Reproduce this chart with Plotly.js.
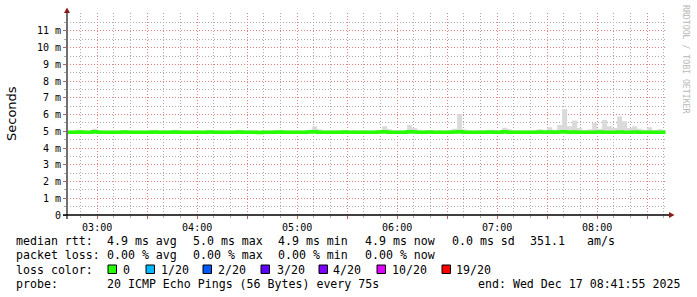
<!DOCTYPE html>
<html>
<head>
<meta charset="utf-8">
<script src="https://cdn.plot.ly/plotly-3.0.1.min.js"></script>
<style>
html,body{margin:0;padding:0;background:#fff;}
#chart{width:697px;height:297px;}
</style>
</head>
<body>
<div id="chart"></div>
<script>
// ---- data (ms), one value per 3-minute step starting 02:42 ----
var startTime = "02:42";
var stepMinutes = 3;
var medianRtt = [
4.95,4.95,4.96,4.95,4.95,4.97,4.95,4.95,4.94,4.95,
4.95,4.96,4.95,4.95,4.94,4.95,4.95,4.96,4.95,4.95,
4.95,4.96,4.95,4.95,4.94,4.95,4.95,4.95,4.96,4.95,
4.95,4.94,4.95,4.95,4.96,4.95,4.95,4.94,4.93,4.95,
4.95,4.95,4.96,4.95,4.95,4.94,4.95,4.95,4.96,4.97,
4.95,4.95,4.94,4.95,4.95,4.96,4.95,4.95,4.94,4.95,
4.95,4.95,4.96,4.97,4.95,4.95,4.94,4.95,4.97,4.96,
4.95,4.95,4.96,4.95,4.95,4.94,4.95,4.96,4.98,4.95,
4.95,4.94,4.95,4.95,4.96,4.95,4.95,4.97,4.95,4.95,
4.95,4.95,4.94,4.95,4.96,4.95,4.96,4.95,4.96,4.97,
4.95,4.96,4.95,4.95,4.94,4.95,4.96,4.95,4.95,4.94,
4.96,4.95,4.95,4.96,4.95,4.94,4.95,4.95,4.94,4.95];
var smokeMax = [
5.05,5.05,5.08,5.05,5.04,5.15,5.06,5.05,5.05,5.04,
5.05,5.06,5.04,5.05,5.05,5.03,5.06,5.05,5.04,5.07,
5.05,5.08,5.05,5.04,5.05,5.06,5.05,5.04,5.05,5.05,
5.07,5.05,5.04,5.05,5.06,5.05,5.08,5.05,5.04,5.05,
5.05,5.06,5.04,5.05,5.05,5.06,5.05,5.04,5.10,5.30,
5.12,5.05,5.04,5.06,5.05,5.05,5.04,5.08,5.05,5.06,
5.05,5.04,5.10,5.30,5.12,5.05,5.06,5.05,5.38,5.20,
5.10,5.05,5.06,5.05,5.08,5.05,5.10,5.15,6.04,5.12,
5.06,5.05,5.08,5.05,5.06,5.10,5.05,5.22,5.12,5.05,
5.06,5.05,5.08,5.05,5.12,5.10,5.25,5.10,5.38,6.34,
5.30,5.64,5.20,5.08,5.12,5.50,5.15,5.68,5.30,5.20,
5.88,5.60,5.20,5.30,5.15,5.10,5.25,5.08,5.12,5.10];
var smokeMin = [
4.87,4.87,4.86,4.87,4.88,4.85,4.87,4.87,4.86,4.87,
4.87,4.86,4.87,4.87,4.88,4.87,4.86,4.87,4.87,4.86,
4.87,4.86,4.87,4.87,4.86,4.87,4.87,4.86,4.87,4.87,
4.86,4.87,4.87,4.86,4.87,4.87,4.86,4.85,4.84,4.87,
4.87,4.86,4.87,4.87,4.86,4.87,4.87,4.86,4.85,4.86,
4.87,4.86,4.85,4.87,4.87,4.86,4.87,4.87,4.86,4.87,
4.87,4.86,4.87,4.86,4.87,4.87,4.85,4.87,4.86,4.86,
4.87,4.86,4.87,4.87,4.86,4.85,4.87,4.86,4.86,4.87,
4.87,4.86,4.87,4.87,4.86,4.87,4.86,4.85,4.87,4.87,
4.86,4.87,4.85,4.87,4.86,4.87,4.85,4.87,4.86,4.85,
4.87,4.86,4.87,4.87,4.85,4.87,4.86,4.87,4.86,4.85,
4.86,4.87,4.86,4.85,4.87,4.86,4.87,4.86,4.85,4.87];
var endTime = "08:41";
var yTickVals = [0,1,2,3,4,5,6,7,8,9,10,11];
var yTickText = ["0","1 m","2 m","3 m","4 m","5 m","6 m","7 m","8 m","9 m","10 m","11 m"];
var xTickLabels = ["03:00","","04:00","","05:00","","06:00","","07:00","","08:00",""];
var xTickTimes = ["03:00","03:30","04:00","04:30","05:00","05:30","06:00","06:30","07:00","07:30","08:00","08:30"];
var lossLabels = ["0","1/20","2/20","3/20","4/20","10/20","19/20"];
var lossColors = ["#26ff00","#00b8ff","#0059ff","#5e00ff","#7e00ff","#dd00ff","#ff0000"];

var day = "2025-12-17 ";
function toMin(s){var p=s.split(":");return (+p[0])*60+(+p[1]);}
function fmt(m){var h=Math.floor(m/60),mm=m%60;return day+(h<10?"0":"")+h+":"+(mm<10?"0":"")+mm+":00";}
var t0 = toMin(startTime);
var times = medianRtt.map(function(_,i){return fmt(t0+i*stepMinutes);});
times.push(fmt(toMin(endTime)));
function ext(a){return a.concat([a[a.length-1]]);}

// minor grid positions (not coinciding with major grid)
var xMinor = [];
for (var m = 2*60+50; m <= 8*60+40; m += 10) { if (m % 30 !== 0) xMinor.push(fmt(m)); }
var yMinor = yTickVals.map(function(v){return v+0.5;});

// pixel helpers for decoration
var L=67,R=667,T=13,B=215;
function fx(px){return (px-L)/(R-L);}
function fy(py){return (B-py)/(B-T);}

var traces = [
 {x:times,y:ext(smokeMin),type:'scatter',mode:'lines',line:{width:0,shape:'hv'},hoverinfo:'skip',showlegend:false},
 {x:times,y:ext(smokeMax),type:'scatter',mode:'lines',line:{width:0,shape:'hv'},fill:'tonexty',fillcolor:'#dadada',hoverinfo:'skip',showlegend:false},
 {x:times,y:ext(medianRtt),type:'scatter',mode:'lines',line:{width:3.5,color:lossColors[0],shape:'hv'},showlegend:false}
];

var mono = 'DejaVu Sans Mono';
var ann = [];
function txt(px,py,s,opt){
  opt=opt||{};
  ann.push({xref:'paper',yref:'paper',x:fx(px-2),y:fy(py),text:s.replace(/ /g,'\u00a0'),showarrow:false,
    xanchor:opt.xanchor||'left',yanchor:'middle',font:{family:mono,size:opt.size||11.6,color:opt.color||'#000'},
    textangle:opt.angle||0});
}
txt(16,241,"median rtt:"); txt(107,241,"4.9 ms avg"); txt(193,241,"5.0 ms max"); txt(278,241,"4.9 ms min");
txt(365,241,"4.9 ms now"); txt(452,241,"0.0 ms sd"); txt(530,241,"351.1"); txt(587,241,"am/s");
txt(16,255,"packet loss:"); txt(107,255,"0.00 % avg"); txt(193,255,"0.00 % max"); txt(278,255,"0.00 % min"); txt(365,255,"0.00 % now");
txt(16,269.5,"loss color:");
txt(16,284,"probe:"); txt(107,284,"20 ICMP Echo Pings (56 Bytes) every 75s"); txt(478,284,"end: Wed Dec 17 08:41:55 2025");

var shapes = [];
var sqX=[108,146,203,261,319,377,442], lbX=[123,161,218,277,333,392,456];
for (var k=0;k<lossLabels.length;k++){
  shapes.push({type:'rect',xref:'paper',yref:'paper',x0:fx(sqX[k]),x1:fx(sqX[k]+8.5),y0:fy(273.5),y1:fy(265),
    fillcolor:lossColors[k],line:{color:'#000',width:1}});
  txt(lbX[k],269.5,lossLabels[k]);
}
// y title & watermark
ann.push({xref:'paper',yref:'paper',x:fx(11),y:fy(114),text:'Seconds',showarrow:false,textangle:-90,
  xanchor:'center',yanchor:'middle',font:{family:'DejaVu Sans',size:13,color:'#000'}});
ann.push({xref:'paper',yref:'paper',x:fx(686),y:fy(59),text:'RRDTOOL / TOBI OETIKER',showarrow:false,textangle:90,
  xanchor:'center',yanchor:'middle',font:{family:mono,size:8.2,color:'#b8b8b8'}});

// axis lines and arrows
shapes.push({type:'line',xref:'paper',yref:'paper',x0:fx(67),x1:fx(67),y0:fy(219),y1:fy(11),line:{color:'#707070',width:2}});
shapes.push({type:'line',xref:'paper',yref:'paper',x0:fx(63),x1:fx(670),y0:fy(215),y1:fy(215),line:{color:'#000',width:1.6}});
function P(px,py){return fx(px)+','+fy(py);}
shapes.push({type:'path',xref:'paper',yref:'paper',path:'M'+P(64,13)+' L'+P(70,13)+' L'+P(67,7.5)+' Z',fillcolor:'#8b1a1a',line:{width:0}});
shapes.push({type:'path',xref:'paper',yref:'paper',path:'M'+P(669,212)+' L'+P(669,218)+' L'+P(674.5,215)+' Z',fillcolor:'#8b1a1a',line:{width:0}});

var major='#e48080', minor='#ababab';
var layout = {
  width:697,height:297,
  margin:{l:L,r:697-R,t:T,b:297-B},
  paper_bgcolor:'#fff',plot_bgcolor:'#fff',
  showlegend:false,
  xaxis:{type:'date',range:[day+'02:41:55',day+'08:41:55'],
    tickmode:'array',tickvals:xTickTimes.map(function(s){return day+s;}),ticktext:xTickLabels,
    showgrid:true,gridcolor:major,griddash:'1px,2px',gridwidth:1,
    ticks:'outside',ticklen:3,tickcolor:'#c06060',
    minor:{tickmode:'array',tickvals:xMinor,showgrid:true,gridcolor:minor,griddash:'1px,2px',gridwidth:1,ticks:'outside',ticklen:2,tickcolor:'#aaa'},
    tickfont:{family:mono,size:10,color:'#000'},zeroline:false,showline:false,fixedrange:true},
  yaxis:{range:[0,12.07],tickmode:'array',tickvals:yTickVals,ticktext:yTickText,
    showgrid:true,gridcolor:major,griddash:'1px,2px',gridwidth:1,
    ticks:'outside',ticklen:3,tickcolor:'#c06060',
    minor:{tickmode:'array',tickvals:yMinor,showgrid:true,gridcolor:minor,griddash:'1px,2px',gridwidth:1,ticks:'outside',ticklen:2,tickcolor:'#aaa'},
    tickfont:{family:mono,size:10,color:'#000'},zeroline:false,showline:false,fixedrange:true},
  annotations:ann,shapes:shapes
};
Plotly.newPlot('chart',traces,layout,{displayModeBar:false,staticPlot:true});
</script>
</body>
</html>
